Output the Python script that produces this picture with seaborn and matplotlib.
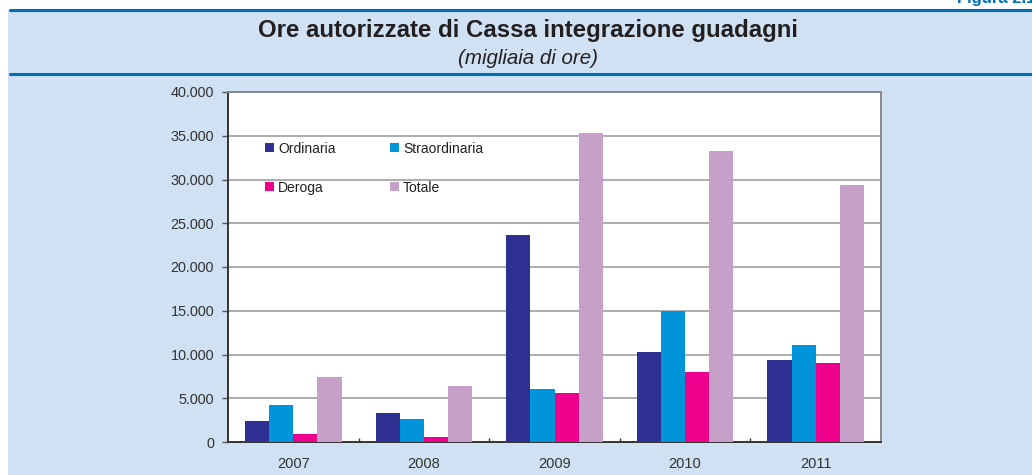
import pandas as pd
import matplotlib.pyplot as plt
import seaborn as sns
from matplotlib.lines import Line2D
from matplotlib.patches import Rectangle
from matplotlib.ticker import FuncFormatter, MultipleLocator

# Data (migliaia di ore)
years = ["2007", "2008", "2009", "2010", "2011"]
ordinaria = [2400, 3300, 23650, 10300, 9370]
straordinaria = [4230, 2630, 6060, 14970, 11090]
deroga = [900, 570, 5600, 8000, 9030]
totale = [7430, 6400, 35300, 33260, 29370]

series_names = ["Ordinaria", "Straordinaria", "Deroga", "Totale"]
palette = ["#2E3192", "#0095DA", "#EC008C", "#C6A0C9"]

df = pd.DataFrame({
    "anno": years * 4,
    "valore": ordinaria + straordinaria + deroga + totale,
    "serie": [s for s in series_names for _ in years],
})

sns.set_theme(style="white")
plt.rcParams['font.family'] = ['Liberation Sans', 'DejaVu Sans']

BG = "#CFE1F2"
BLUE = "#0070B4"
TXT = "#231F20"
W, H = 1032, 475

fig = plt.figure(figsize=(10.32, 4.75), dpi=100)
fig.patch.set_facecolor("white")

# light blue panel with white margins on top and left
bg = Rectangle((8 / W, 0), 1, 1 - 10 / H, transform=fig.transFigure,
               facecolor=BG, edgecolor="none", zorder=-10)
fig.add_artist(bg)
# blue rules
for y in [10, 74]:
    fig.add_artist(Line2D([10 / W, 1], [1 - y / H, 1 - y / H], transform=fig.transFigure,
                          color=BLUE, lw=2.2))

fig.text(1.003, 1 - 3 / H, "Figura 2.1", ha="right", va="baseline",
         color=BLUE, fontsize=12, fontweight="bold")
fig.text(528 / W, 1 - 31 / H, "Ore autorizzate di Cassa integrazione guadagni",
         ha="center", va="center", fontsize=17.3, fontweight="bold", color=TXT)
fig.text(528 / W, 1 - 58 / H, "(migliaia di ore)", ha="center", va="center",
         fontsize=14.8, style="italic", color=TXT)

ax = fig.add_axes([228 / W, (H - 442) / H, 653 / W, 350 / H])
ax.set_zorder(1)
ax.set_facecolor("white")

sns.barplot(data=df, x="anno", y="valore", hue="serie", palette=palette,
            width=0.74, saturation=1, linewidth=0, ax=ax, zorder=3)

ax.set_ylim(0, 40000)
ax.set_xlim(-0.5, 4.5)
ax.yaxis.set_major_locator(MultipleLocator(5000))
ax.yaxis.set_major_formatter(FuncFormatter(lambda v, p: f"{int(v):,}".replace(",", ".")))
for v in range(5000, 40001, 5000):
    ax.axhline(v, color="#A6A6A6", lw=1.3, zorder=1)

ax.set_xlabel("")
ax.set_ylabel("")
ax.tick_params(axis="y", length=4, width=1, color="#555555", labelsize=10.4,
               labelcolor="#333333", pad=6, direction="out", left=True)
ax.tick_params(axis="x", length=0, labelsize=10.5, labelcolor="#333333", pad=11)
ax.set_xticks([0.5, 1.5, 2.5, 3.5], minor=True)
ax.tick_params(axis="x", which="minor", length=3, width=1, color="#333333",
               direction="in", bottom=True)

for side in ["left", "bottom"]:
    ax.spines[side].set_color("#333333")
    ax.spines[side].set_linewidth(1.4)
for side in ["top", "right"]:
    ax.spines[side].set_visible(True)
    ax.spines[side].set_color("#888888")
    ax.spines[side].set_linewidth(1.4)

# legend rows: Ordinaria / Straordinaria, then Deroga / Totale
handles, labels = ax.get_legend_handles_labels()
order = [0, 2, 1, 3]
ax.legend([handles[i] for i in order], [labels[i] for i in order],
          loc="upper left", bbox_to_anchor=(0.048, 0.874), ncol=2, frameon=False,
          fontsize=10, handlelength=0.65, handleheight=0.65, handletextpad=0.3,
          labelspacing=1.8, columnspacing=3.9, borderaxespad=0,
          labelcolor="#231F20")

fig.savefig("out.png", dpi=100, facecolor=fig.get_facecolor())
